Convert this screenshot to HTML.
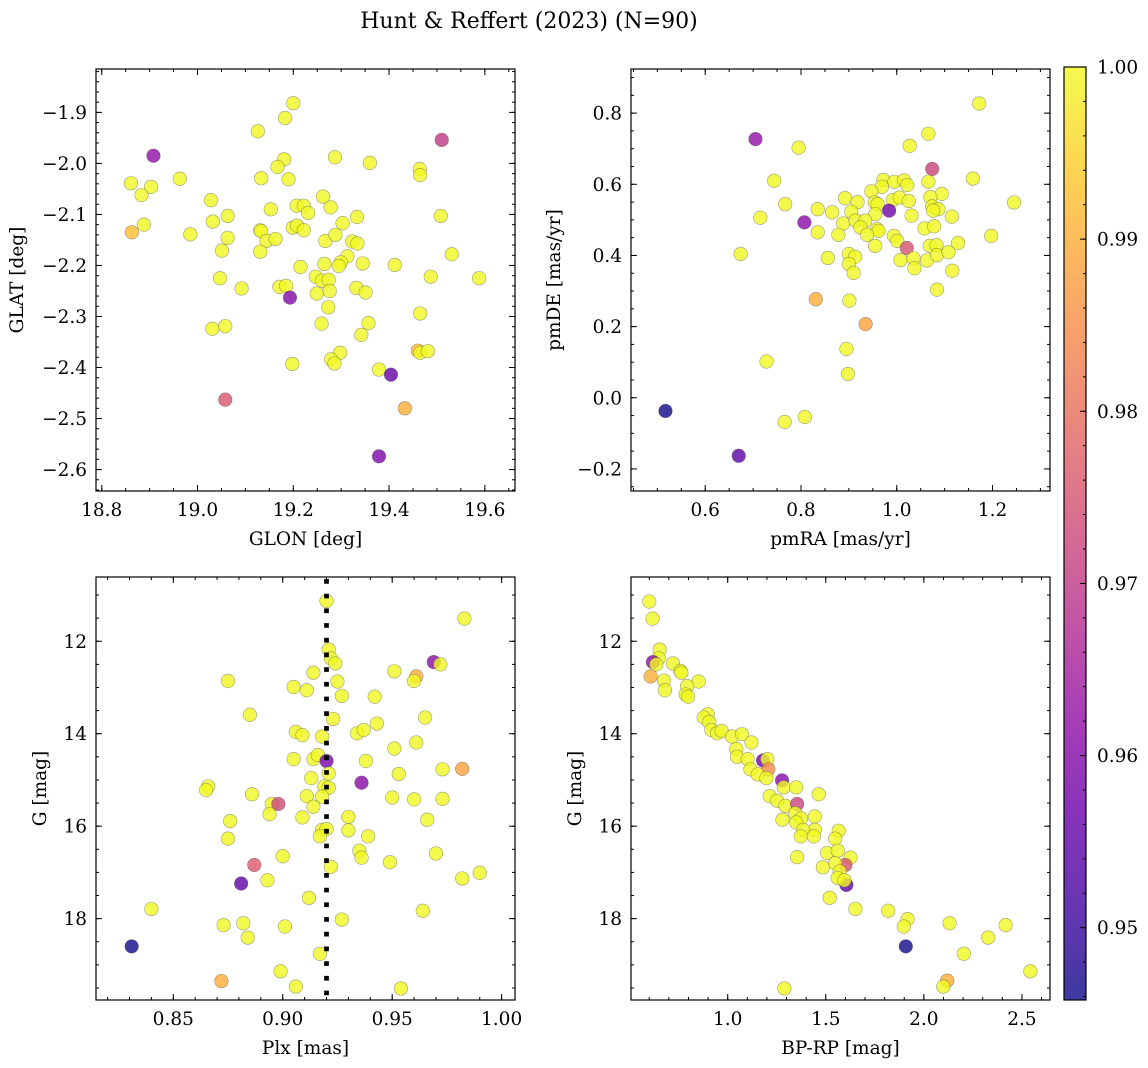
<!DOCTYPE html>
<html><head><meta charset="utf-8"><title>Hunt & Reffert (2023)</title>
<style>
html,body{margin:0;padding:0;background:#fff;}
svg{display:block;font-family:"DejaVu Serif","Liberation Serif",serif;}
</style></head>
<body>
<svg id="fig" width="1148" height="1068" viewBox="0 0 1148 1068" xmlns="http://www.w3.org/2000/svg">
<defs>
<linearGradient id="plasma" x1="0" y1="1" x2="0" y2="0">
<stop offset="0" stop-color="#0d0887"/><stop offset="0.1" stop-color="#41049d"/><stop offset="0.2" stop-color="#6a00a8"/><stop offset="0.3" stop-color="#8f0da4"/><stop offset="0.4" stop-color="#b12a90"/><stop offset="0.5" stop-color="#cc4778"/><stop offset="0.6" stop-color="#e16462"/><stop offset="0.7" stop-color="#f2844b"/><stop offset="0.8" stop-color="#fca636"/><stop offset="0.9" stop-color="#fcce25"/><stop offset="1" stop-color="#f0f921"/>
</linearGradient>
</defs>
<text x="529" y="28" font-size="22" text-anchor="middle">Hunt &amp; Reffert (2023) (N=90)</text>
</svg>
<script>
// ---- Panel 1: sky positions ----
const glon=[19.200,19.183,19.126,18.908,19.510,19.287,19.360,19.181,19.167,19.464,19.465,18.861,18.903,18.883,18.963,19.133,19.190,19.028,19.262,19.278,19.207,19.222,19.231,19.153,19.063,19.032,19.508,19.333,19.303,18.888,18.863,18.985,19.063,19.131,19.133,19.199,19.208,19.222,19.144,19.163,19.267,19.288,19.323,19.334,19.051,19.131,19.531,19.313,19.299,19.295,19.265,19.345,19.412,19.215,19.047,19.487,19.588,19.247,19.260,19.274,19.092,19.171,19.185,19.249,19.276,19.332,19.351,19.193,19.273,19.465,19.259,19.357,19.342,19.031,19.058,19.298,19.279,19.286,19.460,19.465,19.481,19.198,19.379,19.404,19.058,19.433,19.379];
const glat=[-1.882,-1.911,-1.937,-1.985,-1.954,-1.988,-1.999,-1.992,-2.007,-2.011,-2.023,-2.039,-2.046,-2.062,-2.030,-2.029,-2.031,-2.072,-2.065,-2.086,-2.083,-2.083,-2.097,-2.090,-2.103,-2.114,-2.103,-2.105,-2.117,-2.120,-2.135,-2.139,-2.146,-2.131,-2.133,-2.126,-2.122,-2.131,-2.152,-2.148,-2.152,-2.140,-2.153,-2.157,-2.171,-2.173,-2.178,-2.182,-2.194,-2.201,-2.197,-2.196,-2.199,-2.203,-2.225,-2.222,-2.225,-2.222,-2.230,-2.228,-2.245,-2.242,-2.240,-2.255,-2.250,-2.244,-2.253,-2.263,-2.282,-2.294,-2.314,-2.313,-2.336,-2.324,-2.319,-2.371,-2.384,-2.392,-2.367,-2.371,-2.368,-2.393,-2.404,-2.414,-2.463,-2.480,-2.574];
const probSky=[1,1,1,0.962,0.970,1,1,1,1,1,
1,1,1,1,1,1,1,1,1,1,
1,1,1,1,1,1,1,1,1,1,
0.992,1,1,1,1,1,1,1,1,1,
1,1,1,1,1,1,1,1,1,1,
1,1,1,1,1,1,1,1,1,1,
1,1,1,1,1,1,1,0.960,1,1,
1,1,1,1,1,1,1,1,0.992,1,
1,1,1,0.956,0.9756,0.990,0.959];
// ---- Panel 2: proper motions ----
const pmra=[1.172,1.066,1.027,0.705,0.795,1.074,1.159,0.744,1.066,0.972,0.995,1.015,1.022,0.969,0.947,1.094,1.070,0.892,0.918,0.954,0.992,1.006,1.025,1.245,0.767,0.960,1.074,1.087,1.076,0.835,0.865,0.905,0.984,0.955,1.031,1.115,0.715,0.807,0.888,0.914,0.934,0.924,0.959,0.962,1.058,1.078,0.835,0.878,0.938,0.994,1.001,1.197,0.955,1.021,1.069,1.083,1.128,0.674,0.856,0.900,0.913,1.008,1.035,1.063,1.084,1.108,0.900,0.910,1.037,1.116,1.084,0.831,0.901,0.935,0.895,0.728,0.898,0.517,0.808,0.766,0.670];
const pmde=[0.827,0.742,0.708,0.727,0.703,0.643,0.616,0.610,0.607,0.612,0.607,0.611,0.598,0.593,0.580,0.573,0.564,0.561,0.550,0.549,0.556,0.563,0.553,0.549,0.544,0.544,0.538,0.530,0.526,0.530,0.521,0.523,0.526,0.516,0.512,0.509,0.506,0.493,0.490,0.498,0.498,0.479,0.474,0.469,0.476,0.482,0.465,0.458,0.458,0.455,0.441,0.455,0.427,0.421,0.427,0.429,0.435,0.404,0.393,0.404,0.396,0.387,0.392,0.386,0.401,0.409,0.376,0.351,0.364,0.357,0.304,0.277,0.273,0.207,0.137,0.102,0.067,-0.037,-0.054,-0.068,-0.163];
const probPm=[1,1,1,0.962,1,0.972,1,1,1,1,
1,1,1,1,1,1,1,1,1,1,
1,1,1,1,1,1,1,1,1,1,
1,1,0.958,1,1,1,1,0.961,1,1,
1,1,1,1,1,1,1,1,1,1,
1,1,1,0.975,1,1,1,1,1,1,
1,1,1,1,1,1,1,1,1,1,
1,0.990,1,0.988,1,1,1,0.946,1,1,
0.955];
// ---- Panel 3: parallax vs G ----
const plx=[0.920,0.983,0.921,0.922,0.924,0.969,0.972,0.951,0.961,0.960,0.914,0.925,0.875,0.905,0.911,0.927,0.942,0.885,0.923,0.965,0.943,0.906,0.909,0.918,0.934,0.937,0.961,0.951,0.905,0.914,0.916,0.920,0.938,0.973,0.982,0.921,0.953,0.913,0.936,0.866,0.865,0.919,0.921,0.918,0.911,0.886,0.950,0.960,0.973,0.895,0.898,0.914,0.894,0.909,0.930,0.966,0.876,0.918,0.920,0.917,0.930,0.939,0.875,0.935,0.936,0.970,0.900,0.949,0.922,0.887,0.982,0.990,0.881,0.893,0.912,0.840,0.964,0.873,0.882,0.901,0.927,0.884,0.831,0.917,0.899,0.872,0.906,0.954];
const gPlx=[11.13,11.51,12.18,12.37,12.48,12.45,12.50,12.65,12.76,12.86,12.68,12.87,12.86,12.99,13.06,13.18,13.20,13.59,13.68,13.65,13.78,13.96,14.03,14.06,13.99,13.92,14.19,14.32,14.55,14.55,14.46,14.59,14.59,14.77,14.76,14.86,14.87,14.96,15.06,15.14,15.22,15.14,15.17,15.36,15.35,15.31,15.38,15.42,15.41,15.52,15.52,15.58,15.74,15.81,15.80,15.86,15.89,16.08,16.06,16.22,16.09,16.22,16.27,16.53,16.68,16.59,16.65,16.78,16.88,16.84,17.13,17.01,17.24,17.17,17.55,17.79,17.83,18.14,18.10,18.17,18.02,18.41,18.60,18.76,19.14,19.35,19.47,19.51];
const probPlx=[1,1,1,1,1,0.961,1,1,0.990,1,
1,1,1,1,1,1,1,1,1,1,
1,1,1,1,1,1,1,1,1,1,
1,0.958,1,1,0.988,1,1,1,0.961,1,
1,1,1,1,1,1,1,1,1,1,
0.973,1,1,1,1,1,1,1,1,1,
1,1,1,1,1,1,1,1,1,0.976,
1,1,0.955,1,1,1,1,1,1,1,
1,1,0.946,1,1,0.990,1,1];
const plxMean=[0.920];
// ---- Panel 4: colour-magnitude ----
const bprp=[0.600,0.617,0.653,0.648,0.619,0.636,0.721,0.759,0.764,0.607,0.675,0.852,0.680,0.793,0.786,0.798,0.898,0.878,0.906,0.917,0.946,0.969,1.022,1.073,1.121,1.044,1.048,1.102,1.180,1.202,1.207,1.116,1.153,1.197,1.277,1.286,1.349,1.464,1.214,1.252,1.294,1.354,1.344,1.374,1.279,1.350,1.444,1.444,1.384,1.372,1.439,1.566,1.548,1.507,1.561,1.354,1.626,1.600,1.485,1.548,1.571,1.605,1.561,1.595,1.520,1.651,1.818,1.917,1.898,2.131,2.417,2.328,1.908,2.204,2.543,2.119,2.099,1.289];
const gCmd=[11.14,11.51,12.18,12.37,12.45,12.50,12.48,12.64,12.68,12.76,12.85,12.87,13.06,12.97,13.15,13.20,13.58,13.65,13.75,13.92,13.99,13.94,14.06,14.01,14.19,14.33,14.50,14.55,14.58,14.55,14.77,14.77,14.88,14.96,15.01,15.16,15.16,15.31,15.35,15.45,15.56,15.52,15.72,15.83,15.86,15.92,15.79,16.08,16.08,16.22,16.22,16.10,16.27,16.58,16.53,16.67,16.68,16.84,16.89,16.80,16.98,17.27,17.12,17.17,17.55,17.79,17.83,18.01,18.17,18.10,18.14,18.41,18.60,18.76,19.14,19.34,19.47,19.51];
const probCmd=[1,1,1,1,0.961,1,1,1,1,0.990,
1,1,1,1,1,1,1,1,1,1,
1,1,1,1,1,1,1,1,0.958,1,
0.985,1,1,1,0.961,1,1,1,1,1,
1,0.972,1,1,1,1,1,1,1,1,
1,1,1,1,1,1,1,0.975,1,1,
1,0.955,1,1,1,1,1,1,1,1,
1,1,0.946,1,1,0.990,1,1];
// ---- Colorbar ----
const cbTicks=[0.95,0.96,0.97,0.98,0.99,1.00];
const cbMin=0.9458, cbMax=1.0;

const NS='http://www.w3.org/2000/svg';
const svg=document.getElementById('fig');
const FS=18.5;
function mk(tag,attrs,parent){const e=document.createElementNS(NS,tag);for(const k in attrs)e.setAttribute(k,attrs[k]);(parent||svg).appendChild(e);return e;}
const stops=['#0d0887','#41049d','#6a00a8','#8f0da4','#b12a90','#cc4778','#e16462','#f2844b','#fca636','#fcce25','#f0f921'];
function hx(c){return [parseInt(c.substr(1,2),16),parseInt(c.substr(3,2),16),parseInt(c.substr(5,2),16)];}
function plasma(p){let t=(p-cbMin)/(cbMax-cbMin);t=Math.max(0,Math.min(1,t));const f=t*10,i=Math.min(9,Math.floor(f)),u=f-i;const a=hx(stops[i]),b=hx(stops[i+1]);return 'rgb('+a.map((v,k)=>Math.round(v+(b[k]-v)*u)).join(',')+')';}
function fmt(v,d){const s=Math.abs(v).toFixed(d);return (v< -1e-9?'\u2212':'')+s;}

function panel(o){
  const g=mk('g',{});
  
  
  const sx=v=>o.L+(v-o.x0)/(o.x1-o.x0)*(o.R-o.L);
  const sy=o.invert? (v=>o.T+(v-o.y0)/(o.y1-o.y0)*(o.B-o.T)) : (v=>o.B-(v-o.y0)/(o.y1-o.y0)*(o.B-o.T));
  const clipId='clip-'+o.name;
  const cp=mk('clipPath',{id:clipId},g);mk('rect',{x:o.L,y:o.T,width:o.R-o.L,height:o.B-o.T},cp);
  const pts=mk('g',{'clip-path':'url(#'+clipId+')'},g);
  
  
  for(let i=0;i<o.xs.length;i++){
    const c=mk('circle',{cx:sx(o.xs[i]).toFixed(2),cy:sy(o.ys[i]).toFixed(2),r:6.8,fill:plasma(o.ps[i]),'fill-opacity':0.8,stroke:'#555','stroke-opacity':0.55,'stroke-width':0.6},pts);
    
    
  }
  if(o.vline){
    for(const v of o.vline){
      const ln=mk('line',{x1:sx(v),x2:sx(v),y1:o.T,y2:o.B,stroke:'#000','stroke-width':4.7,'stroke-dasharray':'4.7 10','stroke-dashoffset':'-2'},g);
      
      
    }
  }
  const ax=mk('g',{stroke:'#000','stroke-width':1},g);
  const eps=1e-9;
  for(let k=Math.ceil(o.x0/o.xmin-eps);k*o.xmin<=o.x1+eps;k++){const v=k*o.xmin,x=sx(v);mk('line',{x1:x,x2:x,y1:o.B,y2:o.B-3},ax);mk('line',{x1:x,x2:x,y1:o.T,y2:o.T+3},ax);}
  for(const v of o.xt){const x=sx(v);mk('line',{x1:x,x2:x,y1:o.B,y2:o.B-6},ax);mk('line',{x1:x,x2:x,y1:o.T,y2:o.T+6},ax);
    const t=mk('text',{x:x,y:o.B+25,'font-size':FS,'text-anchor':'middle',stroke:'none',fill:'#000'},g);t.textContent=fmt(v,o.xd);
    }
  const ylo=Math.min(o.y0,o.y1),yhi=Math.max(o.y0,o.y1);
  for(let k=Math.ceil(ylo/o.ymin-eps);k*o.ymin<=yhi+eps;k++){const v=k*o.ymin,y=sy(v);mk('line',{x1:o.L,x2:o.L+3,y1:y,y2:y},ax);mk('line',{x1:o.R,x2:o.R-3,y1:y,y2:y},ax);}
  for(const v of o.yt){const y=sy(v);mk('line',{x1:o.L,x2:o.L+6,y1:y,y2:y},ax);mk('line',{x1:o.R,x2:o.R-6,y1:y,y2:y},ax);
    const t=mk('text',{x:o.L-9,y:y+6.5,'font-size':FS,'text-anchor':'end',stroke:'none',fill:'#000'},g);t.textContent=fmt(v,o.yd);
    }
  const fr=mk('rect',{x:o.L,y:o.T,width:o.R-o.L,height:o.B-o.T,fill:'none',stroke:'#000','stroke-width':1.2},g);
  
  const xl=mk('text',{x:(o.L+o.R)/2,y:o.B+54,'font-size':FS,'text-anchor':'middle'},g);xl.textContent=o.xlabel;
  
  const yx=o.ylx, yc=(o.T+o.B)/2;
  const yl=mk('text',{x:yx,y:yc,'font-size':FS,'text-anchor':'middle',transform:'rotate(-90 '+yx+' '+yc+')'},g);yl.textContent=o.ylabel;
  
}

panel({name:'sky-panel',L:96,R:515,T:69,B:491,x0:18.788,x1:19.663,y0:-2.642,y1:-1.815,xt:[18.8,19.0,19.2,19.4,19.6],xmin:0.05,xd:1,yt:[-2.6,-2.5,-2.4,-2.3,-2.2,-2.1,-2.0,-1.9],ymin:0.02,yd:1,xs:glon,ys:glat,ps:probSky,xlabel:'GLON [deg]',ylabel:'GLAT [deg]',ylx:23});
panel({name:'pm-panel',L:631,R:1050,T:69,B:491,x0:0.445,x1:1.320,y0:-0.262,y1:0.924,xt:[0.6,0.8,1.0,1.2],xmin:0.05,xd:1,yt:[-0.2,0,0.2,0.4,0.6,0.8],ymin:0.05,yd:1,xs:pmra,ys:pmde,ps:probPm,xlabel:'pmRA [mas/yr]',ylabel:'pmDE [mas/yr]',ylx:560});
panel({name:'plx-panel',L:96,R:515,T:577,B:1000,x0:0.8147,x1:1.0061,y0:10.61,y1:19.76,invert:true,xt:[0.85,0.90,0.95,1.00],xmin:0.01,xd:2,yt:[12,14,16,18],ymin:0.5,yd:0,xs:plx,ys:gPlx,ps:probPlx,vline:plxMean,xlabel:'Plx [mas]',ylabel:'G [mag]',ylx:46});
panel({name:'cmd-panel',L:631,R:1050,T:577,B:1000,x0:0.507,x1:2.643,y0:10.61,y1:19.76,invert:true,xt:[1.0,1.5,2.0,2.5],xmin:0.1,xd:1,yt:[12,14,16,18],ymin:0.5,yd:0,xs:bprp,ys:gCmd,ps:probCmd,xlabel:'BP-RP [mag]',ylabel:'G [mag]',ylx:581});

(function(){
  const L=1064,R=1086,T=67,B=1000;
  const g=mk('g',{});
  
  
  const bar=mk('rect',{x:L,y:T,width:R-L,height:B-T,fill:'url(#plasma)','fill-opacity':0.8},g);
  
  const sy=v=>B-(v-cbMin)/(cbMax-cbMin)*(B-T);
  for(let k=Math.ceil(cbMin/0.002-1e-9);k*0.002<=cbMax+1e-9;k++){const y=sy(k*0.002);mk('line',{x1:R,x2:R-3,y1:y,y2:y,stroke:'#000','stroke-width':1},g);}
  for(const v of cbTicks){const y=sy(v);mk('line',{x1:R,x2:R-6,y1:y,y2:y,stroke:'#000','stroke-width':1},g);
    const t=mk('text',{x:R+11,y:y+6.5,'font-size':FS},g);t.textContent=v.toFixed(2);
    }
  mk('rect',{x:L,y:T,width:R-L,height:B-T,fill:'none',stroke:'#000','stroke-width':1.2},g);
})();
</script>
</body></html>
